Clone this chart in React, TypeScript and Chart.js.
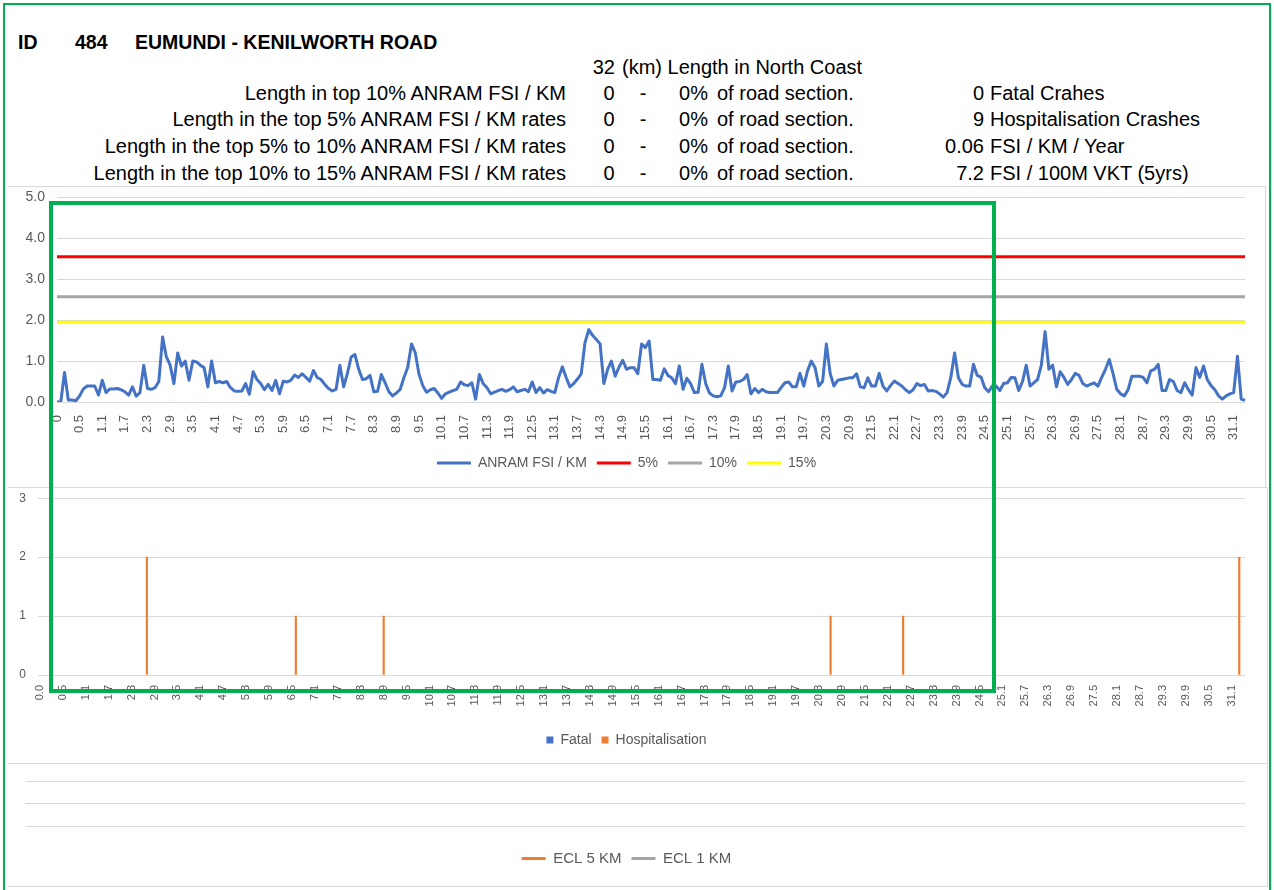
import React, { useEffect, useRef } from "react";
import { Chart, registerables } from "chart.js";
Chart.register(...registerables);

// ---------- DATA ----------
const CATEGORY_COUNT = 316;
// km chainage categories (0.1 km segments); first category shows as "0"
const kmLabelsTop: string[] = Array.from({ length: CATEGORY_COUNT }, (_, i) =>
  i === 0 ? "0" : ((i - 1) / 10).toFixed(1)
);
const kmLabelsCrash: string[] = Array.from({ length: CATEGORY_COUNT }, (_, i) =>
  i === 0 ? "0.0" : ((i - 1) / 10).toFixed(1)
);

const anramFsiPerKm: number[] = [
  0, 0, 0.72, 0.05, 0.05, 0.03, 0.15, 0.32, 0.39, 0.39,
  0.39, 0.17, 0.53, 0.23, 0.32, 0.32, 0.33, 0.3, 0.25, 0.17,
  0.37, 0.14, 0.23, 0.9, 0.33, 0.31, 0.35, 0.5, 1.59, 1.1,
  0.9, 0.45, 1.2, 0.88, 1.0, 0.53, 1.0, 0.98, 0.9, 0.84,
  0.37, 1.0, 0.47, 0.5, 0.47, 0.5, 0.35, 0.27, 0.26, 0.27,
  0.45, 0.19, 0.74, 0.55, 0.45, 0.3, 0.43, 0.28, 0.53, 0.2,
  0.51, 0.49, 0.53, 0.66, 0.6, 0.69, 0.6, 0.51, 0.77, 0.6,
  0.55, 0.43, 0.33, 0.27, 0.31, 0.9, 0.37, 0.7, 1.1, 1.16,
  0.8, 0.55, 0.57, 0.65, 0.25, 0.26, 0.67, 0.47, 0.25, 0.15,
  0.22, 0.31, 0.6, 0.85, 1.42, 1.2, 0.67, 0.4, 0.24, 0.3,
  0.33, 0.22, 0.09, 0.2, 0.24, 0.28, 0.31, 0.49, 0.42, 0.4,
  0.47, 0.07, 0.67, 0.45, 0.35, 0.2, 0.24, 0.28, 0.31, 0.26,
  0.3, 0.37, 0.25, 0.28, 0.31, 0.25, 0.49, 0.23, 0.35, 0.22,
  0.3, 0.26, 0.23, 0.6, 0.86, 0.6, 0.37, 0.45, 0.56, 0.69,
  1.45, 1.77, 1.63, 1.53, 1.42, 0.45, 0.8, 1.0, 0.63, 0.85,
  1.02, 0.8, 0.84, 0.84, 0.69, 1.42, 1.33, 1.49, 0.55, 0.55,
  0.53, 0.81, 0.65, 0.59, 0.45, 0.88, 0.31, 0.58, 0.45, 0.23,
  0.24, 0.92, 0.45, 0.22, 0.15, 0.13, 0.15, 0.35, 0.88, 0.27,
  0.49, 0.5, 0.55, 0.67, 0.2, 0.33, 0.23, 0.31, 0.25, 0.23,
  0.23, 0.23, 0.35, 0.47, 0.49, 0.37, 0.37, 0.7, 0.39, 0.76,
  1.0, 0.84, 0.39, 0.5, 1.42, 0.7, 0.39, 0.53, 0.55, 0.57,
  0.59, 0.59, 0.69, 0.37, 0.35, 0.59, 0.39, 0.39, 0.7, 0.39,
  0.27, 0.4, 0.51, 0.45, 0.39, 0.3, 0.23, 0.3, 0.45, 0.4,
  0.43, 0.27, 0.28, 0.26, 0.2, 0.12, 0.23, 0.6, 1.2, 0.6,
  0.43, 0.39, 0.39, 0.92, 0.65, 0.61, 0.35, 0.25, 0.39, 0.39,
  0.28, 0.45, 0.47, 0.6, 0.59, 0.28, 0.5, 0.9, 0.39, 0.47,
  0.55, 0.9, 1.72, 0.8, 0.9, 0.37, 0.74, 0.6, 0.43, 0.55,
  0.7, 0.65, 0.45, 0.39, 0.43, 0.47, 0.39, 0.6, 0.8, 1.04,
  0.7, 0.31, 0.2, 0.15, 0.3, 0.63, 0.63, 0.63, 0.6, 0.47,
  0.76, 0.8, 0.92, 0.28, 0.28, 0.55, 0.5, 0.28, 0.23, 0.47,
  0.3, 0.17, 0.84, 0.6, 0.88, 0.55, 0.4, 0.3, 0.15, 0.07,
  0.15, 0.2, 0.23, 1.12, 0.07, 0.04,
];

const threshold5 = 3.55;
const threshold10 = 2.57;
const threshold15 = 1.95;

const hospKm: string[] = ["2.7", "6.6", "8.9", "20.6", "22.5", "31.3"];
const hospCount: number[] = [2, 1, 1, 1, 1, 2];
const fatalKm: string[] = [];
const fatalCount: number[] = [];

const yTicksTop = [0, 1, 2, 3, 4, 5];
const yTicksCrash = [0, 1, 2, 3];

// header table
const rowLabels = [
  "Length in top 10% ANRAM FSI / KM",
  "Length in the top 5% ANRAM FSI / KM rates",
  "Length in the top 5% to 10% ANRAM FSI / KM rates",
  "Length in the top 10% to 15% ANRAM FSI / KM rates",
];
const rowLengths = ["0", "0", "0", "0"];
const rowPercents = ["0%", "0%", "0%", "0%"];
const statValues = ["0", "9", "0.06", "7.2"];
const statLabels = ["Fatal Crahes", "Hospitalisation Crashes", "FSI / KM / Year", "FSI / 100M VKT (5yrs)"];

// ---------- STYLE ----------
const FONT = "'Liberation Sans', Arial, sans-serif";
const GRID = "#d9d9d9";
const TICK = "#595959";
const BLUE = "#4472c4";
const ORANGE = "#ed7d31";
const GREY = "#a5a5a5";
const GREEN = "#00b050";

Chart.defaults.font.family = FONT;

function useChart(ref: React.RefObject<HTMLCanvasElement | null>, make: () => any) {
  useEffect(() => {
    if (!ref.current) return;
    const c = new Chart(ref.current, make());
    return () => c.destroy();
  }, []);
}

const T = ({ x, y, align = "left", bold = false, size = 20, children }: any) => {
  const style: React.CSSProperties = {
    position: "absolute",
    top: y - 11,
    lineHeight: "22px",
    fontSize: size,
    fontFamily: FONT,
    fontWeight: bold ? 700 : 400,
    whiteSpace: "nowrap",
    color: "#000",
  };
  if (align === "left") style.left = x;
  else if (align === "right") style.right = 1274 - x;
  else {
    style.left = x;
    style.transform = "translateX(-50%)";
  }
  return <span style={style}>{children}</span>;
};

export default function App() {
  const r1 = useRef<HTMLCanvasElement>(null);
  const r2 = useRef<HTMLCanvasElement>(null);
  const r3 = useRef<HTMLCanvasElement>(null);

  const thresholdSet = (label: string, value: number, color: string) => ({
    label,
    data: [
      { x: kmLabelsTop[0], y: value },
      { x: kmLabelsTop[CATEGORY_COUNT - 1], y: value },
    ],
    borderColor: color,
    backgroundColor: color,
    borderWidth: 3,
    pointRadius: 0,
  });

  useChart(r1, () => ({
    type: "line",
    data: {
      labels: kmLabelsTop,
      datasets: [
        {
          label: "ANRAM FSI / KM",
          data: anramFsiPerKm,
          borderColor: BLUE,
          backgroundColor: BLUE,
          borderWidth: 3,
          pointRadius: 0,
          borderJoinStyle: "round",
        },
        thresholdSet("5%", threshold5, "#ff0000"),
        thresholdSet("10%", threshold10, GREY),
        thresholdSet("15%", threshold15, "#ffff00"),
      ],
    },
    options: {
      animation: false,
      responsive: false,
      devicePixelRatio: 1,
      layout: { autoPadding: false, padding: { top: 0, left: 0, right: 21, bottom: 6 } },
      plugins: {
        tooltip: { enabled: false },
        legend: {
          position: "bottom",
          labels: {
            usePointStyle: true,
            pointStyle: "line",
            pointStyleWidth: 34,
            boxHeight: 12,
            color: TICK,
            font: { size: 14 },
            padding: 10,
          },
        },
      },
      scales: {
        x: {
          grid: { display: false },
          border: { display: false },
          ticks: {
            autoSkip: false,
            minRotation: 90,
            maxRotation: 90,
            padding: 5,
            color: TICK,
            font: { size: 13 },
            callback: (_v: any, i: number) => (i % 6 === 0 ? kmLabelsTop[i] : null),
          },
          afterFit: (s: any) => {
            s.height = 44;
          },
        },
        y: {
          min: yTicksTop[0],
          max: yTicksTop[yTicksTop.length - 1],
          grid: { color: GRID, drawTicks: false },
          border: { display: false },
          ticks: {
            stepSize: 1,
            padding: 12,
            color: TICK,
            font: { size: 14 },
            callback: (v: any) => Number(v).toFixed(1),
          },
          afterFit: (s: any) => {
            s.width = 49;
          },
        },
      },
    },
  }));

  useChart(r2, () => ({
    type: "bar",
    data: {
      labels: kmLabelsCrash,
      datasets: [
        {
          label: "Fatal",
          data: fatalKm.map((k, i) => ({ x: k, y: fatalCount[i] })),
          backgroundColor: BLUE,
          barThickness: 1.5,
        },
        {
          label: "Hospitalisation",
          data: hospKm.map((k, i) => ({ x: k, y: hospCount[i] })),
          backgroundColor: ORANGE,
          barThickness: 1.5,
        },
      ],
    },
    options: {
      animation: false,
      responsive: false,
      devicePixelRatio: 1,
      layout: { autoPadding: false, padding: { top: 0, left: 0, right: 23, bottom: 5 } },
      plugins: {
        tooltip: { enabled: false },
        legend: {
          position: "bottom",
          labels: { boxWidth: 7, boxHeight: 7, color: TICK, font: { size: 14 }, padding: 10 },
        },
      },
      scales: {
        x: {
          stacked: true,
          grid: { display: false },
          border: { display: false },
          ticks: {
            autoSkip: false,
            minRotation: 90,
            maxRotation: 90,
            padding: 2,
            color: TICK,
            font: { size: 11 },
            callback: (_v: any, i: number) => (i % 6 === 0 ? kmLabelsCrash[i] : null),
          },
          afterFit: (s: any) => {
            s.height = 48;
          },
        },
        y: {
          stacked: true,
          min: yTicksCrash[0],
          max: yTicksCrash[yTicksCrash.length - 1],
          grid: { color: GRID, drawTicks: false },
          border: { display: false },
          ticks: { stepSize: 1, padding: 12, color: TICK, font: { size: 12 } },
          afterFit: (s: any) => {
            s.width = 30;
          },
        },
      },
    },
  }));

  useChart(r3, () => ({
    type: "line",
    data: {
      labels: kmLabelsTop,
      datasets: [
        { label: "ECL 5 KM", data: [], borderColor: ORANGE, backgroundColor: ORANGE, borderWidth: 3, pointRadius: 0 },
        { label: "ECL 1 KM", data: [], borderColor: GREY, backgroundColor: GREY, borderWidth: 3, pointRadius: 0 },
      ],
    },
    options: {
      animation: false,
      responsive: false,
      devicePixelRatio: 1,
      layout: { autoPadding: false, padding: { top: 17, left: 0, right: 23, bottom: 9 } },
      plugins: {
        tooltip: { enabled: false },
        legend: {
          position: "bottom",
          labels: {
            usePointStyle: true,
            pointStyle: "line",
            pointStyleWidth: 24,
            boxHeight: 12,
            color: TICK,
            font: { size: 15 },
            padding: 10,
          },
        },
      },
      scales: {
        x: {
          grid: { display: false },
          border: { display: false },
          ticks: { display: false },
          afterFit: (s: any) => {
            s.height = 15;
          },
        },
        y: {
          min: 0,
          max: 2,
          grid: { color: GRID, drawTicks: false },
          border: { display: false },
          ticks: { display: false, stepSize: 1 },
          afterFit: (s: any) => {
            s.width = 17;
          },
        },
      },
    },
  }));

  const rowY = [93, 119, 146, 173];

  return (
    <div
      style={{
        position: "absolute",
        left: 0,
        top: 0,
        width: 1274,
        height: 890,
        background: "#fff",
        overflow: "hidden",
        fontFamily: FONT,
      }}
    >
      {/* outer thin green frame */}
      <div
        style={{
          position: "absolute",
          left: 3,
          top: 3,
          width: 1268,
          height: 900,
          border: `2px solid ${GREEN}`,
          boxSizing: "border-box",
        }}
      />

      {/* header */}
      <T x={18} y={42} bold size={19.5}>ID</T>
      <T x={75} y={42} bold size={19.5}>484</T>
      <T x={135} y={42} bold size={19.5}>EUMUNDI - KENILWORTH ROAD</T>
      <T x={615} y={67} align="right">32</T>
      <T x={622} y={67}>(km) Length in North Coast</T>
      {rowLabels.map((l, i) => (
        <React.Fragment key={i}>
          <T x={566} y={rowY[i]} align="right">{l}</T>
          <T x={609} y={rowY[i]} align="center">{rowLengths[i]}</T>
          <T x={643} y={rowY[i]} align="center">-</T>
          <T x={708} y={rowY[i]} align="right">{rowPercents[i]}</T>
          <T x={717} y={rowY[i]}>of road section.</T>
          <T x={984} y={rowY[i]} align="right">{statValues[i]}</T>
          <T x={990} y={rowY[i]}>{statLabels[i]}</T>
        </React.Fragment>
      ))}

      {/* panels */}
      <div style={{ position: "absolute", left: 8, top: 186, width: 1258, height: 301, borderTop: `1px solid ${GRID}`, borderRight: `1px solid ${GRID}`, boxSizing: "border-box" }} />
      <div style={{ position: "absolute", left: 8, top: 487, width: 1260, height: 276, borderTop: `1px solid ${GRID}`, borderRight: `1px solid ${GRID}`, boxSizing: "border-box" }} />
      <div style={{ position: "absolute", left: 8, top: 763, width: 1260, height: 124, borderTop: `1px solid ${GRID}`, borderBottom: `1px solid ${GRID}`, borderRight: `1px solid ${GRID}`, boxSizing: "border-box" }} />

      <canvas ref={r1} width={1258} height={309} style={{ position: "absolute", left: 8, top: 177 }} />
      <canvas ref={r2} width={1260} height={283} style={{ position: "absolute", left: 8, top: 479 }} />
      <canvas ref={r3} width={1260} height={121} style={{ position: "absolute", left: 8, top: 764 }} />

      {/* green highlight rectangle */}
      <div
        style={{
          position: "absolute",
          left: 49,
          top: 201,
          width: 947,
          height: 492,
          border: `4px solid ${GREEN}`,
          boxSizing: "border-box",
          pointerEvents: "none",
        }}
      />
    </div>
  );
}
